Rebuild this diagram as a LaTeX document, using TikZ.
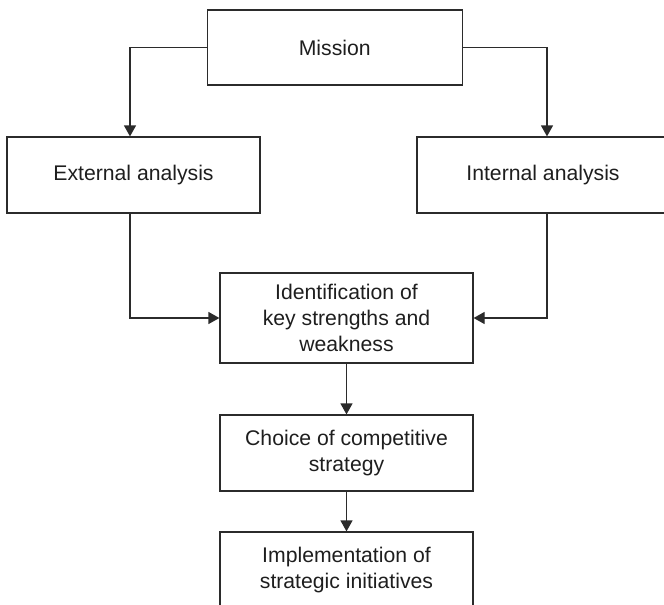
\documentclass[tikz,border=0pt]{standalone}
\usepackage{fontspec}
\setmainfont{Liberation Sans}
\usetikzlibrary{arrows.meta}
\definecolor{ink}{HTML}{2B2B2B}
\definecolor{txt}{HTML}{1E1E1E}
\begin{document}
\begin{tikzpicture}[x=1pt,y=-1pt,
  box/.style={draw=ink, line width=1.2pt, inner sep=0pt, align=center,
    minimum width=253pt, minimum height=76pt, text=txt,
    font=\fontsize{21.2}{25.7}\selectfont},
  flow/.style={draw=ink, line width=1.2pt,
    -{Triangle[length=11pt,width=12pt]}}]
  \useasboundingbox (0,0) rectangle (664,605);
  \clip (0,0) rectangle (664,605);

  % boxes
  \node[box, minimum width=255pt, minimum height=75pt] (mission) at (334.75,47.5) {Mission};
  \node[box] (ext) at (133.5,175) {External analysis};
  \node[box, minimum width=252pt] (int) at (543,175) {Internal analysis};
  \node[box, minimum height=90pt] (ident) at (346.5,318)
    {Identification of\\key strengths and\\weakness};
  \node[box] (choice) at (346.5,453) {Choice of competitive\\strategy};
  \node[box] (impl) at (346.5,570) {Implementation of\\strategic initiatives};

  % connectors
  \draw[flow] (mission.west) -| ([xshift=-3.5pt]ext.north);
  \draw[flow] (mission.east) -| ([xshift=4pt]int.north);
  \draw[flow] ([xshift=-3.5pt]ext.south) |- (ident.west);
  \draw[flow] ([xshift=4pt]int.south) |- (ident.east);
  \draw[flow] (ident.south) -- (choice.north);
  \draw[flow] (choice.south) -- (impl.north);
\end{tikzpicture}
\end{document}
